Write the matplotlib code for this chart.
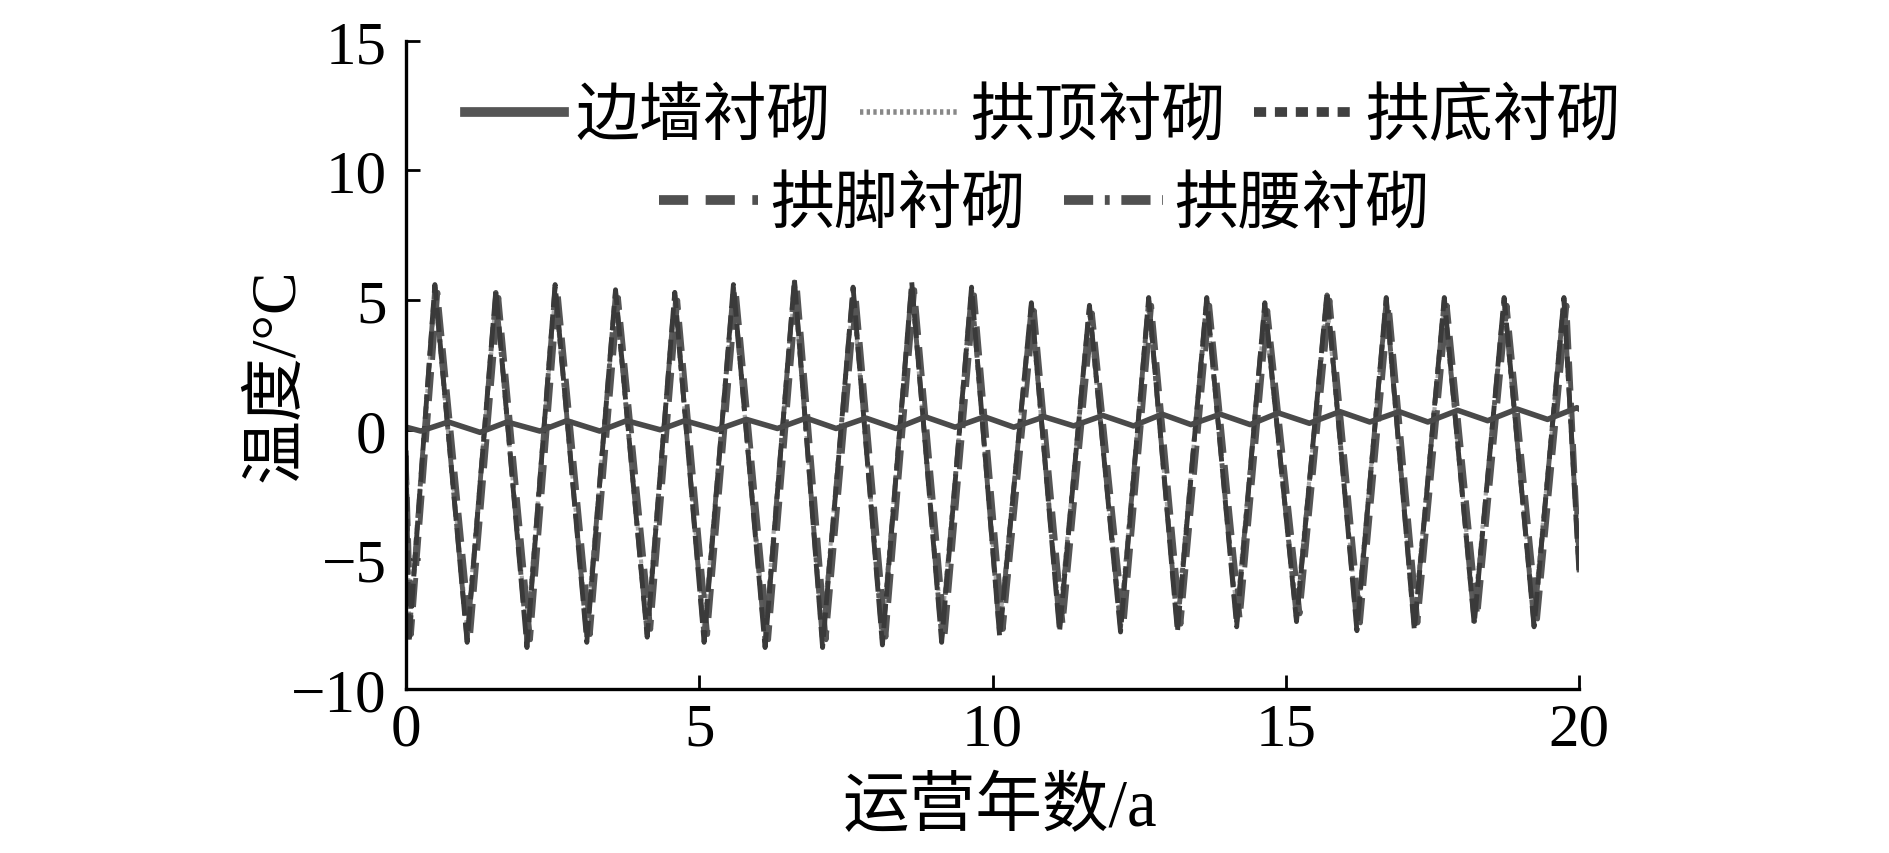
import numpy as np
import matplotlib
matplotlib.use("Agg")
import matplotlib.pyplot as plt
from matplotlib.lines import Line2D

plt.rcParams['font.family'] = ['Liberation Serif', 'Noto Sans CJK SC']
plt.rcParams['axes.unicode_minus'] = True

# turning points (years, degC)
t_main = [0.0, 0.05, 0.49, 1.04, 1.53, 2.06, 2.54, 3.08, 3.57, 4.11, 4.58, 5.08, 5.58, 6.12,
          6.62, 7.10, 7.62, 8.12, 8.62, 9.13, 9.64, 10.12, 10.66, 11.14, 11.65, 12.18, 12.66,
          13.15, 13.65, 14.16, 14.64, 15.18, 15.70, 16.21, 16.71, 17.19, 17.70, 18.21, 18.72,
          19.23, 19.74, 20.0]
t_jiao = [0.0, 0.09, 0.54, 1.10, 1.58, 2.12, 2.59, 3.14, 3.62, 4.17, 4.63, 5.14, 5.63, 6.18,
          6.67, 7.16, 7.67, 8.18, 8.67, 9.19, 9.69, 10.18, 10.71, 11.20, 11.70, 12.24, 12.71,
          13.21, 13.70, 14.22, 14.69, 15.24, 15.75, 16.27, 16.76, 17.25, 17.75, 18.27, 18.77,
          19.29, 19.79, 20.0]
t_bq = [0.0, 0.25, 0.72, 1.26, 1.72, 2.28, 2.74, 3.30, 3.76, 4.33, 4.75, 5.30, 5.80, 6.33,
        6.82, 7.33, 7.84, 8.35, 8.85, 9.36, 9.86, 10.36, 10.88, 11.38, 11.88, 12.40, 12.89,
        13.38, 13.88, 14.39, 14.87, 15.40, 15.92, 16.43, 16.93, 17.42, 17.93, 18.44, 18.94,
        19.46, 19.96, 20.0]

bianqiang = [0.1, -0.05, 0.3, -0.1, 0.3, -0.05, 0.35, -0.05, 0.35, 0.0, 0.35, 0.0, 0.4, 0.05,
             0.45, 0.05, 0.45, 0.05, 0.5, 0.1, 0.5, 0.1, 0.5, 0.15, 0.55, 0.15, 0.6, 0.2, 0.6,
             0.2, 0.65, 0.25, 0.7, 0.3, 0.7, 0.3, 0.75, 0.35, 0.8, 0.4, 0.85, 0.8]
gongding = [-0.9, -7.6, 5.2, -7.7, 5.0, -7.8, 5.2, -7.6, 5.0, -7.5, 4.9, -7.6, 5.2, -7.8, 5.4,
            -7.8, 5.1, -7.7, 5.3, -7.6, 5.1, -7.5, 4.5, -7.2, 4.4, -7.2, 4.7, -7.2, 4.7, -7.0,
            4.5, -6.9, 4.9, -7.2, 4.7, -7.2, 4.7, -7.0, 4.7, -7.1, 4.7, -5.0]
gongdi = [-1.0, -8.2, 5.6, -8.2, 5.4, -8.4, 5.6, -8.2, 5.4, -8.0, 5.3, -8.2, 5.6, -8.4, 5.8,
          -8.4, 5.5, -8.3, 5.7, -8.2, 5.5, -8.0, 4.9, -7.8, 4.8, -7.8, 5.1, -7.8, 5.1, -7.6,
          4.9, -7.4, 5.3, -7.75, 5.1, -7.75, 5.1, -7.5, 5.1, -7.6, 5.1, -5.7]
gongjiao = [-1.0, -7.9, 5.3, -7.9, 5.1, -8.1, 5.3, -7.9, 5.1, -7.7, 5.0, -7.9, 5.3, -8.1, 5.5,
            -8.1, 5.2, -8.0, 5.4, -7.9, 5.2, -7.7, 4.6, -7.5, 4.5, -7.5, 4.8, -7.5, 4.8, -7.3,
            4.6, -7.1, 5.0, -7.45, 4.8, -7.45, 4.8, -7.2, 4.8, -7.3, 4.8, -5.2]
gongyao = [-0.8, -8.0, 5.5, -8.1, 5.3, -8.2, 5.5, -8.0, 5.3, -7.9, 5.2, -8.0, 5.5, -8.2, 5.7,
           -8.2, 5.4, -8.1, 5.6, -8.0, 5.4, -7.9, 4.8, -7.6, 4.7, -7.6, 5.0, -7.6, 5.0, -7.4,
           4.8, -7.3, 5.2, -7.6, 5.0, -7.6, 5.0, -7.4, 5.0, -7.5, 5.0, -5.5]

names = ['边墙衬砌', '拱顶衬砌', '拱底衬砌', '拱脚衬砌', '拱腰衬砌']
x_ticks = [0, 5, 10, 15, 20]
y_ticks = [-10, -5, 0, 5, 10, 15]

fig = plt.figure(figsize=(18.89, 8.54), dpi=100)
ax = fig.add_axes([0.215, 0.192, 0.621, 0.759])

ax.plot(t_main, gongding, color='#a8a8a8', lw=3, linestyle=(0, (1, 1)))
ax.plot(t_main, gongyao, color='#5a5a5a', lw=3.5, linestyle=(0, (5, 1.5, 1, 1.5)))
ax.plot(t_jiao, gongjiao, color='#555555', lw=3.5, linestyle=(0, (6, 2.5)))
ax.plot(t_main, gongdi, color='#3a3a3a', lw=3.5, linestyle=(0, (5, 1.5)))
ax.plot(t_bq, bianqiang, color='#4a4a4a', lw=4, linestyle='-')

ax.set_xlim(0, 20)
ax.set_ylim(-10, 15)
ax.set_xticks(x_ticks)
ax.set_yticks(y_ticks)
for s in ['top', 'right']:
    ax.spines[s].set_visible(False)
for s in ['left', 'bottom']:
    ax.spines[s].set_linewidth(2.4)
ax.tick_params(direction='in', length=10, width=2, labelsize=44)
ax.tick_params(axis='x', pad=9)
ax.tick_params(axis='y', pad=14)

ax.set_xlabel('运营年数/a', fontsize=48)
ax.set_ylabel('温度/°C', fontsize=46)
ax.xaxis.set_label_coords(0.506, -0.135)
ax.yaxis.set_label_coords(-0.084, 0.485)

# legend handles drawn thicker, as in the figure
h1 = Line2D([], [], color='#555555', lw=7, linestyle='-')
h2 = Line2D([], [], color='#888888', lw=4, linestyle=(0, (0.6, 0.6)))
h3 = Line2D([], [], color='#404040', lw=7, linestyle=(0, (1.25, 0.9)))
h4 = Line2D([], [], color='#505050', lw=7, linestyle=(0, (3, 1.8)))
h5 = Line2D([], [], color='#505050', lw=7, linestyle=(0, (3, 1.2, 0.5, 1.2)))

fig.legend(handles=[h1, h2, h3], labels=names[:3], loc='center',
           bbox_to_anchor=(0.552, 0.86), ncol=3, frameon=False, fontsize=46,
           handlelength=1.55, handletextpad=0.18, columnspacing=0.45)
fig.legend(handles=[h4, h5], labels=names[3:], loc='center',
           bbox_to_anchor=(0.553, 0.757), ncol=2, frameon=False, fontsize=46,
           handlelength=1.55, handletextpad=0.18, columnspacing=0.6)

fig.savefig('out.png', dpi=100)
